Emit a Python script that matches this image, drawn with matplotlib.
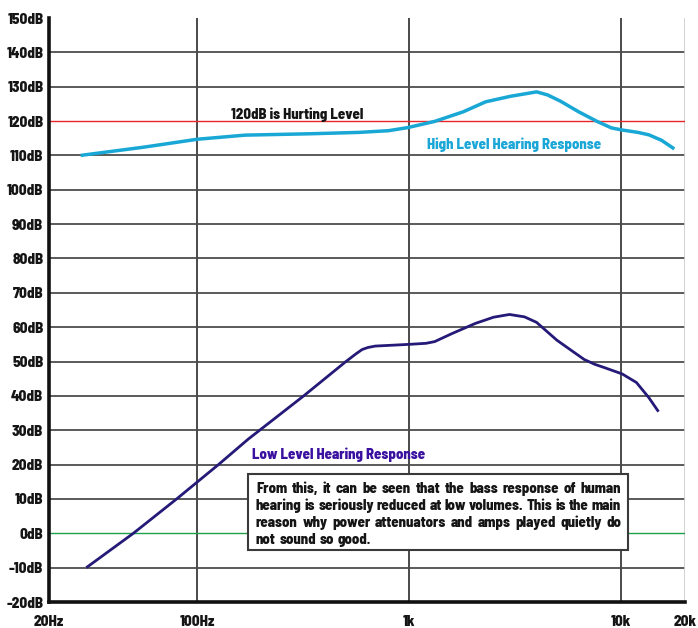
import numpy as np
import matplotlib
matplotlib.use("Agg")
import matplotlib.pyplot as plt
from matplotlib.patches import Rectangle

plt.rcParams['font.family'] = ['Barlow Semi Condensed', 'DejaVu Sans']

# x ticks and labels
freq_ticks = [20, 100, 1000, 10000, 20000]
freq_labels = ['20Hz', '100Hz', '1k', '10k', '20k']
db_ticks = list(range(-20, 151, 10))
db_labels = ['%ddB' % v for v in db_ticks]

# low level hearing response
low_freq = [30, 50, 80, 126, 174, 318, 503, 560, 600, 640, 692, 1000, 1200, 1319, 1600,
            2053, 2500, 2971, 3500, 3990, 4976, 5800, 6690, 7500, 8360, 10100,
            11800, 13500, 15000]
low_db = [-10, 0, 10, 20, 27.4, 40, 50, 52.2, 53.5, 54.1, 54.5, 55.0, 55.3, 55.8, 58.2,
          61.1, 62.9, 63.7, 63.0, 61.4, 56.2, 53.3, 50.6, 49.2, 48.2, 46.4,
          43.9, 39.5, 35.4]

# high level hearing response
high_freq = [28.2, 56, 100, 168, 341, 580, 800, 985, 1319, 1800, 2294, 3000,
             3990, 4500, 5167, 6300, 7694, 9000, 10100, 12000, 13500, 15500, 17800]
high_db = [110, 112.4, 114.7, 115.9, 116.3, 116.7, 117.2, 118.1, 119.9, 122.7,
           125.6, 127.2, 128.5, 127.6, 125.8, 122.7, 119.9, 118.0, 117.4, 116.7, 116.0,
           114.4, 111.9]

hurt_level = 120
note_lines = [
    "From this, it can be seen that the bass response of human",
    "hearing is seriously reduced at low volumes.  This is the main",
    "reason why power attenuators and amps played quietly do",
    "not sound so good.",
]

W, H = 698, 628
FS = 10.6
WT = 800
fig = plt.figure(figsize=(W / 100, H / 100), dpi=100)
ax = fig.add_axes([49 / W, 1 - 602 / H, (685 - 49) / W, (602 - 18) / H])

ax.set_xscale('log')
ax.set_xlim(20, 20000)
ax.set_ylim(-20, 150)

# grid
for v in db_ticks[1:-1]:
    if v in (0, hurt_level):
        continue
    ax.axhline(v, color='#2e2e2e', lw=1.1, zorder=1)
for f in freq_ticks[1:-1]:
    ax.axvline(f, color='#4a4a4a', lw=1.4, zorder=1)
ax.axvline(20000, color='#cccccc', lw=1.2, zorder=1)
ax.axhline(hurt_level, color='#e8262a', lw=1.0, zorder=2)
ax.axhline(0, color='#1f9e4c', lw=1.0, zorder=2)

ax.plot(high_freq, high_db, color='#19a7d6', lw=2.5, solid_capstyle='butt', zorder=3)
ax.plot(low_freq, low_db, color='#251a78', lw=2.0, solid_capstyle='butt', zorder=3)

for s in ('top', 'right'):
    ax.spines[s].set_visible(False)
ax.spines['left'].set_linewidth(2.6)
ax.spines['bottom'].set_linewidth(2.6)
ax.spines['left'].set_color('#111111')
ax.spines['bottom'].set_color('#111111')

ax.set_xticks(freq_ticks)
ax.set_xticklabels(freq_labels)
ax.xaxis.set_minor_locator(matplotlib.ticker.NullLocator())
ax.set_yticks(db_ticks)
ax.set_yticklabels(db_labels)
ax.tick_params(axis='both', length=0, labelsize=FS + 0.3, colors='#151515')
ax.tick_params(axis='x', pad=9)
ax.tick_params(axis='y', pad=4)
for lab in ax.get_xticklabels() + ax.get_yticklabels():
    lab.set_fontweight(WT)

def px(x, y):
    return x / W, 1 - y / H

fig.text(*px(297, 115), "120dB is Hurting Level", ha='center', va='center',
         fontsize=FS, fontweight=WT, color='#151515')
fig.text(*px(514, 145), "High Level Hearing Response", ha='center', va='center',
         fontsize=FS, fontweight=WT, color='#1aa6d6')
fig.text(*px(339, 455), "Low Level Hearing Response", ha='center', va='center',
         fontsize=FS, fontweight=WT, color='#3a10a0')

# note box
bx0, by0, bx1, by1 = 248, 474, 628, 550
fig.patches.append(Rectangle(px(bx0, by1), (bx1 - bx0) / W, (by1 - by0) / H,
                             transform=fig.transFigure, facecolor='white',
                             edgecolor='#3a3a3a', lw=1.5, zorder=5))

renderer = fig.canvas.get_renderer()
tx0, tx1 = 256, 621
line_y = [493, 510, 527, 544]
for i, line in enumerate(note_lines):
    words = line.split()
    objs = [fig.text(0, 0, w, ha='left', va='baseline', fontsize=FS,
                     fontweight=WT, color='#151515', zorder=6) for w in words]
    widths = [o.get_window_extent(renderer).width for o in objs]
    if i < len(note_lines) - 1:
        gap = (tx1 - tx0 - sum(widths)) / (len(words) - 1)
    else:
        gap = FS * 0.35
    x = tx0
    for o, wd in zip(objs, widths):
        o.set_position(px(x, line_y[i]))
        x += wd + gap

fig.savefig('out.png', dpi=100)
